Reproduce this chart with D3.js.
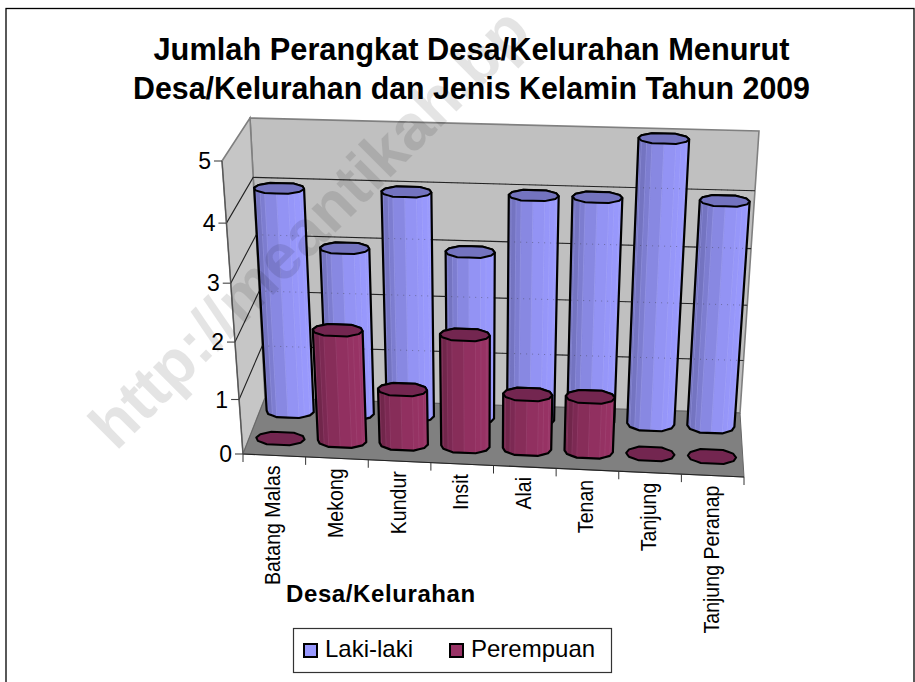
<!DOCTYPE html>
<html><head><meta charset="utf-8">
<script src="https://cdn.jsdelivr.net/npm/d3@7/dist/d3.min.js"></script>
<style>html,body{margin:0;padding:0;background:#fff}svg{display:block}text{font-family:"Liberation Sans",Arial,sans-serif;fill:#000}</style>
</head><body><svg id="c" width="915" height="682"></svg>
<script>
const categories = ["Batang Malas","Mekong","Kundur","Insit","Alai","Tenan","Tanjung","Tanjung Peranap"];
const lakiLaki = [4,3,4,3,4,4,5,4];
const perempuan = [0,2,1,2,1,1,0,0];
const valueTicks = [0,1,2,3,4,5];
const titleLines = ["Jumlah Perangkat Desa/Kelurahan Menurut","Desa/Kelurahan dan Jenis Kelamin Tahun 2009"];
const axisTitle = "Desa/Kelurahan";
const legendLabels = ["Laki-laki","Perempuan"];
const watermark = "http://meantikah.bp";

const svg = d3.select("#c");
// box corners: b=back f=front, l=left r=right, 0=floor 1=top of value axis
const C = {bl0:[265,398],br0:[740,413],fl0:[243,454],fr0:[744,477],bl1:[250,118],br1:[759,131],fl1:[222,161],fr1:[767,177]};
const lerp=(a,b,t)=>[a[0]+(b[0]-a[0])*t,a[1]+(b[1]-a[1])*t];
const yFrac = d3.scaleLinear().domain(valueTicks).range([0,.186,.382,.583,.788,1]);
const uScale = d3.scaleBand().domain(categories).range([0,1]);
function P(u,v,w){
  const t=yFrac(v);
  const l0=lerp(C.bl0,C.fl0,w), r0=lerp(C.br0,C.fr0,w), l1=lerp(C.bl1,C.fl1,w), r1=lerp(C.br1,C.fr1,w);
  return lerp(lerp(l0,r0,u),lerp(l1,r1,u),t);
}
const line=d3.line(), closed=pts=>line(pts)+"Z";

// frame
svg.append("rect").attr("x",6).attr("y",8.5).attr("width",908).attr("height",700).attr("fill","#fff").attr("stroke","#000").attr("stroke-width",1.3);

// walls
const g=svg.append("g");
g.append("path").attr("d",closed([C.bl1,C.br1,C.br0,C.bl0])).attr("fill","#c0c0c0").attr("stroke","#808080").attr("stroke-width",1.6);
g.append("path").attr("d",closed([C.fl1,C.bl1,C.bl0,C.fl0])).attr("fill","#c6c6c6").attr("stroke","#808080").attr("stroke-width",1.6);
g.append("path").attr("d",closed([C.fl0,C.bl0,C.br0,C.fr0])).attr("fill","#808080").attr("stroke","#666").attr("stroke-width",1);
g.append("path").attr("d",line([C.fl0,C.fr0])).attr("stroke","#222").attr("stroke-width",1.2).attr("fill","none");

// gridlines
valueTicks.slice(1,-1).forEach(v=>{
  g.append("path").attr("d",line([P(0,v,1),P(0,v,0),P(1,v,0)])).attr("fill","none").attr("stroke","#222").attr("stroke-width",1.1);
});
// value axis
g.append("path").attr("d",line([C.fl1,C.fl0])).attr("stroke","#555").attr("stroke-width",1.2).attr("fill","none");
valueTicks.forEach(v=>{
  const p=P(0,v,1);
  g.append("path").attr("d",line([p,[p[0]-8,p[1]]])).attr("stroke","#444").attr("stroke-width",1.1);
  g.append("text").attr("x",p[0]-11).attr("y",p[1]+8).attr("text-anchor","end").attr("font-size",23).text(v);
});
// category ticks + labels
categories.concat([null]).forEach((c,i)=>{
  const p=P(i/categories.length,0,1);
  g.append("path").attr("d",line([p,[p[0],p[1]+8]])).attr("stroke","#333").attr("stroke-width",1);
});
categories.forEach(c=>{
  const u=uScale(c)+uScale.bandwidth()/2, p=P(u,0,1);
  g.append("text").attr("transform",`translate(${p[0]+6},${p[1]+10}) rotate(-90) scale(.89,1)`).attr("text-anchor","end").attr("font-size",22).text(c);
});

// cylinders: faceted outline with flat top and bottom edges, each edge split into shaded facets
const outlineDeg=[0,28,62,118,152,180,208,242,298,332];
const unitRing=[];
outlineDeg.forEach((d,i)=>{
  const d2=i<outlineDeg.length-1?outlineDeg[i+1]:360;
  const a=d*Math.PI/180,b=d2*Math.PI/180;
  d3.range(2).forEach(j=>{
    const m=j/2;
    unitRing.push([Math.cos(a)*(1-m)+Math.cos(b)*m,Math.sin(a)*(1-m)+Math.sin(b)*m]);
  });
});
function cyl(cat,val,w,cols){
  const uc=uScale(cat)+uScale.bandwidth()/2, du=.049, dw=.125, N=unitRing.length;
  const ring=v=>unitRing.map(([c,n])=>P(uc+du*c,v,w+dw*n));
  const top=ring(val), bot=ring(0);
  const gg=svg.append("g");
  if(val>0){
    const hull=d3.polygonHull(top.concat(bot));
    gg.append("path").attr("d",closed(hull)).attr("fill",cols.mid);
    for(let k=0;k<N;k++){
      const k2=(k+1)%N, c=(unitRing[k][0]+unitRing[k2][0])/2, n=(unitRing[k][1]+unitRing[k2][1])/2;
      if(n<=0) continue;
      const f=cols.ramp((1-c)/2);
      gg.append("path").attr("d",closed([top[k],top[k2],bot[k2],bot[k]])).attr("fill",f).attr("stroke",f).attr("stroke-width",.6);
      gg.append("path").attr("d",line([top[k],bot[k]])).attr("stroke",cols.streak).attr("stroke-width",.7).attr("opacity",.45);
    }
    gg.append("path").attr("d",closed(hull)).attr("fill","none").attr("stroke","#000").attr("stroke-width",2.2).attr("stroke-linejoin","round");
  }
  gg.append("path").attr("d",closed(top)).attr("fill",cols.cap).attr("stroke","#000").attr("stroke-width",2).attr("stroke-linejoin","round");
}
const blueCols={mid:"#8a8ae5",cap:"#7373bf",streak:"#b4b4ff",ramp:d3.scaleLinear().domain([0,.45,.75,1]).range(["#9a9aff","#9292f2","#8080d6","#6a6ab0"])};
const redCols={mid:"#86305a",cap:"#732650",streak:"#b05a88",ramp:d3.scaleLinear().domain([0,.45,.75,1]).range(["#993366","#90305f","#802a55","#662244"])};
categories.forEach((c,i)=>cyl(c,lakiLaki[i],.22,blueCols));
// gridlines show faintly dotted through the back row
valueTicks.slice(1,-1).forEach(v=>{
  svg.append("path").attr("d",line([P(0,v,0),P(1,v,0)])).attr("fill","none").attr("stroke","#333").attr("stroke-width",1).attr("stroke-dasharray","1 5").attr("opacity",.4);
});
categories.forEach((c,i)=>cyl(c,perempuan[i],.7,redCols));

// titles
const titleWidths=d3.scaleOrdinal().domain(titleLines).range([636,677]);
titleLines.forEach((t,i)=>svg.append("text").attr("x",471.5).attr("y",59.5+i*39).attr("text-anchor","middle").attr("font-weight","bold").attr("font-size",31).attr("textLength",titleWidths(t)).attr("lengthAdjust","spacingAndGlyphs").text(t));
svg.append("text").attr("x",286).attr("y",602).attr("font-weight","bold").attr("font-size",24).attr("letter-spacing",.6).text(axisTitle);

// legend
const lg=svg.append("g");
lg.append("rect").attr("x",293.5).attr("y",628.5).attr("width",318).attr("height",44).attr("fill","#fff").attr("stroke","#333").attr("stroke-width",1.2);
const legendX=d3.scaleOrdinal().domain(legendLabels).range([304,450]);
const legendFill=d3.scaleOrdinal().domain(legendLabels).range(["#9999ff","#993366"]);
legendLabels.forEach(l=>{
  const x=legendX(l);
  lg.append("rect").attr("x",x).attr("y",644).attr("width",13).attr("height",13).attr("fill",legendFill(l)).attr("stroke","#000").attr("stroke-width",2);
  lg.append("text").attr("x",x+21).attr("y",657).attr("font-size",24).text(l);
});

// watermark over everything
svg.append("text").attr("transform","translate(116,452) rotate(-45)").attr("font-size",64).attr("font-weight","bold").style("fill","#000").attr("opacity",.1).text(watermark);
</script></body></html>
